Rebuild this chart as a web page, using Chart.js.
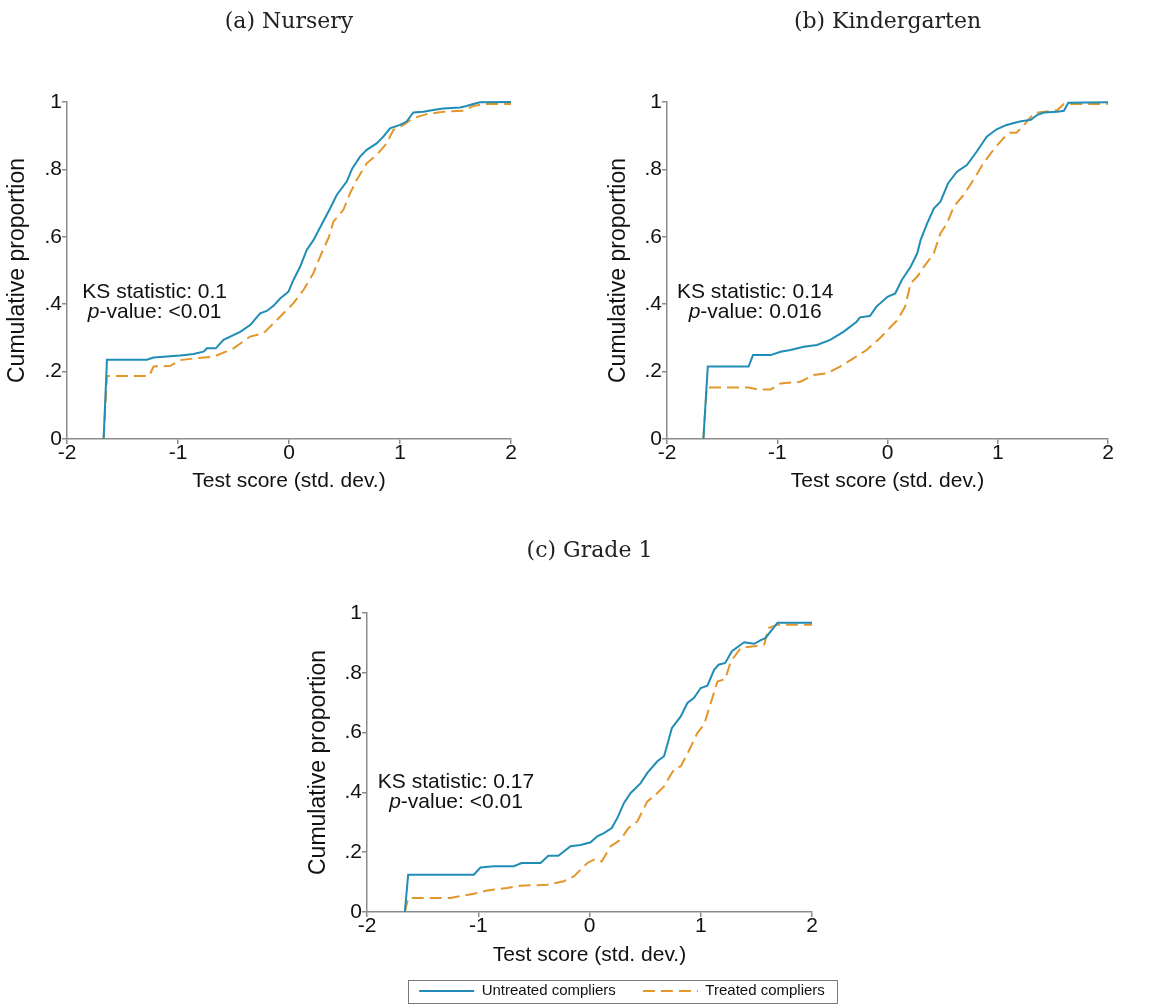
<!DOCTYPE html>
<html><head><meta charset="utf-8">
<script src="https://cdn.jsdelivr.net/npm/chart.js@4.4.0/dist/chart.umd.min.js"></script>
<style>
html,body{margin:0;padding:0;background:#fff;overflow:hidden;width:1174px;height:1006px;}
canvas{position:absolute;}
</style></head><body>
<canvas id="ca" width="580" height="500" style="left:0px;top:0px"></canvas>
<canvas id="cb" width="573" height="500" style="left:601px;top:0px"></canvas>
<canvas id="cc" width="642" height="480" style="left:301px;top:530px"></canvas>
<script>
// ---- tick labels & texts ----
const xTickValues = [-2, -1, 0, 1, 2];
const xTickLabels = ['-2', '-1', '0', '1', '2'];
const yTickValues = [0, 0.2, 0.4, 0.6, 0.8, 1];
const yTickLabels = ['0', '.2', '.4', '.6', '.8', '1'];
const seriesNames = ['Untreated compliers', 'Treated compliers'];
const panelTitles = ['(a) Nursery', '(b) Kindergarten', '(c) Grade 1'];
const ksLabels = ['KS statistic: 0.1', 'KS statistic: 0.14', 'KS statistic: 0.17'];
const pValueLabels = ['<0.01', '0.016', '<0.01'];
const xTitle = 'Test score (std. dev.)';
const yTitle = 'Cumulative proportion';

// ---- (a) Nursery ----
const nurseryUntreatedX = [-1.67,-1.64,-1.28,-1.22,-0.98,-0.86,-0.77,-0.74,-0.66,-0.59,-0.44,-0.35,-0.26,-0.20,-0.14,-0.08,-0.005,0.04,0.10,0.16,0.22,0.30,0.37,0.43,0.52,0.57,0.64,0.70,0.79,0.85,0.91,1.00,1.06,1.12,1.21,1.30,1.39,1.54,1.60,1.66,1.72,2.00];
const nurseryUntreatedY = [0,0.235,0.235,0.242,0.248,0.252,0.259,0.269,0.269,0.294,0.318,0.338,0.373,0.380,0.395,0.417,0.437,0.472,0.511,0.561,0.590,0.640,0.684,0.724,0.764,0.803,0.838,0.858,0.877,0.897,0.922,0.932,0.942,0.969,0.971,0.976,0.981,0.984,0.988,0.994,0.999,1.0];
const nurseryTreatedX = [-1.67,-1.64,-1.26,-1.22,-1.07,-0.98,-0.86,-0.68,-0.50,-0.35,-0.23,-0.14,-0.05,0.04,0.13,0.22,0.28,0.36,0.40,0.49,0.55,0.61,0.70,0.79,0.88,0.94,1.03,1.12,1.24,1.39,1.57,1.66,1.75,2.00];
const nurseryTreatedY = [0,0.187,0.187,0.215,0.217,0.234,0.239,0.244,0.269,0.304,0.314,0.343,0.373,0.403,0.442,0.492,0.541,0.600,0.645,0.680,0.729,0.769,0.818,0.843,0.877,0.917,0.932,0.952,0.964,0.971,0.974,0.988,0.994,0.994];

// ---- (b) Kindergarten ----
const kinderUntreatedX = [-1.67,-1.63,-1.26,-1.22,-1.06,-0.97,-0.88,-0.76,-0.64,-0.52,-0.40,-0.28,-0.25,-0.16,-0.10,0.00,0.07,0.13,0.21,0.27,0.30,0.36,0.42,0.48,0.55,0.63,0.72,0.81,0.90,0.99,1.08,1.20,1.30,1.36,1.42,1.54,1.60,1.64,2.00];
const kinderUntreatedY = [0,0.215,0.215,0.249,0.249,0.259,0.264,0.274,0.279,0.294,0.318,0.348,0.361,0.365,0.393,0.422,0.432,0.472,0.511,0.551,0.590,0.640,0.684,0.704,0.759,0.793,0.813,0.853,0.897,0.919,0.932,0.942,0.947,0.962,0.969,0.971,0.974,0.998,0.999];
const kinderTreatedX = [-1.67,-1.64,-1.26,-1.18,-1.06,-0.97,-0.79,-0.67,-0.55,-0.43,-0.31,-0.19,-0.07,0.03,0.09,0.16,0.21,0.27,0.33,0.42,0.48,0.54,0.60,0.69,0.78,0.87,0.96,1.05,1.11,1.17,1.24,1.33,1.42,1.54,1.60,2.00];
const kinderTreatedY = [0,0.153,0.153,0.147,0.147,0.165,0.170,0.190,0.195,0.215,0.239,0.264,0.299,0.333,0.353,0.393,0.462,0.482,0.511,0.551,0.610,0.640,0.689,0.724,0.769,0.818,0.858,0.892,0.909,0.909,0.932,0.967,0.971,0.976,0.994,0.994];

// ---- (c) Grade 1 ----
const gradeUntreatedX = [-1.66,-1.63,-1.04,-0.98,-0.86,-0.68,-0.61,-0.44,-0.37,-0.28,-0.17,-0.08,0.01,0.07,0.13,0.20,0.25,0.31,0.37,0.46,0.52,0.61,0.67,0.70,0.74,0.82,0.88,0.94,1.00,1.06,1.12,1.16,1.22,1.28,1.39,1.48,1.54,1.58,1.69,2.00];
const gradeUntreatedY = [0,0.125,0.125,0.149,0.153,0.153,0.164,0.164,0.188,0.188,0.220,0.224,0.233,0.253,0.264,0.281,0.314,0.365,0.398,0.431,0.465,0.504,0.521,0.560,0.615,0.654,0.699,0.716,0.749,0.757,0.810,0.827,0.833,0.872,0.902,0.897,0.909,0.916,0.967,0.967];
const gradeTreatedX = [-1.66,-1.63,-1.25,-1.04,-0.92,-0.74,-0.62,-0.38,-0.23,-0.14,-0.08,-0.02,0.05,0.11,0.19,0.28,0.35,0.43,0.52,0.58,0.67,0.73,0.77,0.82,0.89,0.97,1.03,1.09,1.15,1.22,1.27,1.36,1.48,1.57,1.61,1.69,2.00];
const gradeTreatedY = [0,0.047,0.047,0.061,0.072,0.080,0.088,0.091,0.103,0.119,0.142,0.164,0.177,0.169,0.220,0.242,0.281,0.303,0.370,0.387,0.420,0.459,0.482,0.487,0.537,0.599,0.627,0.699,0.771,0.779,0.838,0.883,0.889,0.894,0.950,0.961,0.961];

// ---- styling ----
const BLUE = '#1f8db5';
const ORANGE = '#e3962a';
const AXIS = '#8c8c8c';
const SANS = '"Liberation Sans", Arial, Helvetica, sans-serif';
Chart.defaults.font.family = SANS;
Chart.defaults.color = '#111';

function pts(xs, ys) { return xs.map((x, i) => ({x: x, y: ys[i]})); }

const ksPlugin = {
  id: 'ks',
  afterDatasetsDraw(chart, args, o) {
    const ctx = chart.ctx;
    const cx = chart.scales.x.getPixelForValue(o.x);
    const by = chart.scales.y.getPixelForValue(o.y);
    const nf = '21px ' + SANS, itf = 'italic 21px ' + SANS;
    ctx.save();
    ctx.fillStyle = '#111';
    ctx.textBaseline = 'alphabetic';
    ctx.font = nf; ctx.textAlign = 'center';
    ctx.fillText(o.line1, cx, by);
    ctx.textAlign = 'left';
    ctx.font = itf; const wp = ctx.measureText('p').width;
    const rest = '-value: ' + o.p;
    ctx.font = nf; const wr = ctx.measureText(rest).width;
    const left = cx - (wp + wr) / 2;
    ctx.font = itf; ctx.fillText('p', left, by + 20);
    ctx.font = nf; ctx.fillText(rest, left + wp, by + 20);
    ctx.restore();
  }
};

const legendBoxPlugin = {
  id: 'legendBox',
  afterDraw(chart) {
    const lg = chart.legend;
    if (!lg || !lg.legendHitBoxes || !lg.legendHitBoxes.length) return;
    const hb = lg.legendHitBoxes, last = hb[hb.length - 1];
    const l = hb[0].left - 11, r = last.left + last.width + 12;
    const t = hb[0].top - 3.5, b = hb[0].top + hb[0].height + 4.5;
    const ctx = chart.ctx;
    ctx.save();
    ctx.strokeStyle = '#7a7a7a'; ctx.lineWidth = 1; ctx.setLineDash([]);
    ctx.strokeRect(Math.round(l) + 0.5, Math.round(t) + 0.5, Math.round(r - l), Math.round(b - t));
    ctx.restore();
  }
};

function legendLabels(chart) {
  const items = Chart.defaults.plugins.legend.labels.generateLabels(chart);
  items.forEach(it => {
    const ds = chart.data.datasets[it.datasetIndex];
    it.lineDash = ds.borderDash || [];
    it.lineWidth = ds.borderWidth;
    it.strokeStyle = ds.borderColor;
  });
  return items;
}

function makeChart(id, idx, ux, uy, tx, ty, o) {
  const scales = {
    x: {
      type: 'linear', min: -2, max: 2,
      afterBuildTicks: s => { s.ticks = xTickValues.map(v => ({value: v})); },
      afterFit: s => { s.height = o.xH; },
      ticks: {callback: (v, i) => xTickLabels[i], font: {size: 21}, color: '#111', padding: -3, maxRotation: 0, autoSkip: false},
      grid: {display: true, drawOnChartArea: false, drawTicks: true, tickLength: 5, color: AXIS, lineWidth: 1.5},
      border: {display: true, color: AXIS, width: 1.5},
      title: {display: true, text: xTitle, font: {size: 21}, color: '#111', padding: {top: 0, bottom: o.xtB}}
    },
    y: {
      type: 'linear', min: 0, max: 1, position: 'left',
      afterBuildTicks: s => { s.ticks = yTickValues.map(v => ({value: v})); },
      afterFit: s => { s.width = o.yW; },
      ticks: {callback: (v, i) => yTickLabels[i], font: {size: 21}, color: '#111', padding: 0},
      grid: {display: true, drawOnChartArea: false, drawTicks: true, tickLength: 5, color: AXIS, lineWidth: 1.5},
      border: {display: true, color: AXIS, width: 1.5},
      title: {display: true, text: yTitle, font: {size: 23}, color: '#111', padding: {top: 4, bottom: 0}}
    }
  };
  if (o.rightW) {
    scales.y2 = {
      type: 'linear', position: 'right', display: true,
      grid: {display: false}, border: {display: false}, ticks: {display: false},
      afterFit: s => { s.width = o.rightW; }
    };
  }
  return new Chart(document.getElementById(id), {
    type: 'line',
    data: {
      datasets: [
        {label: seriesNames[0], data: pts(ux, uy), borderColor: BLUE, backgroundColor: BLUE,
         borderWidth: 2, pointRadius: 0, tension: 0, clip: 6},
        {label: seriesNames[1], data: pts(tx, ty), borderColor: ORANGE, backgroundColor: ORANGE,
         borderWidth: 2, borderDash: [12, 6], pointRadius: 0, tension: 0, clip: 6}
      ]
    },
    options: {
      responsive: false, animation: false, events: [],
      layout: {padding: {left: 0, right: o.padR, top: 0, bottom: o.padB}},
      plugins: {
        legend: o.legend ? {
          display: true, position: 'bottom', align: 'center',
          labels: {usePointStyle: true, pointStyle: 'line', pointStyleWidth: 55, boxHeight: 15,
                   padding: 27, color: '#111', font: {size: 15}, generateLabels: legendLabels}
        } : {display: false},
        title: {display: true, text: panelTitles[idx], fullSize: false, color: '#222',
                font: {family: '"DejaVu Serif", "Liberation Serif", serif', size: 22, weight: 'normal'},
                padding: {top: o.tT, bottom: o.tB}},
        tooltip: {enabled: false},
        ks: {x: o.ksX, y: o.ksY, line1: ksLabels[idx], p: pValueLabels[idx]}
      },
      scales: scales
    },
    plugins: o.legend ? [ksPlugin, legendBoxPlugin] : [ksPlugin]
  });
}

makeChart('ca', 0, nurseryUntreatedX, nurseryUntreatedY, nurseryTreatedX, nurseryTreatedY,
  {yW: 67, padR: 69, xH: 55, padB: 6, xtB: 0, tT: 9, tB: 66.6, ksX: -1.21, ksY: 0.418});
makeChart('cb', 1, kinderUntreatedX, kinderUntreatedY, kinderTreatedX, kinderTreatedY,
  {yW: 66, padR: 66, xH: 55, padB: 6, xtB: 0, tT: 9, tB: 66.6, ksX: -1.20, ksY: 0.418});
makeChart('cc', 2, gradeUntreatedX, gradeUntreatedY, gradeTreatedX, gradeTreatedY,
  {yW: 66, padR: 0, rightW: 131, xH: 44.5, padB: 1.5, xtB: -11.1, tT: 7.8, tB: 48.8,
   ksX: -1.20, ksY: 0.415, legend: true});
</script>
</body></html>
